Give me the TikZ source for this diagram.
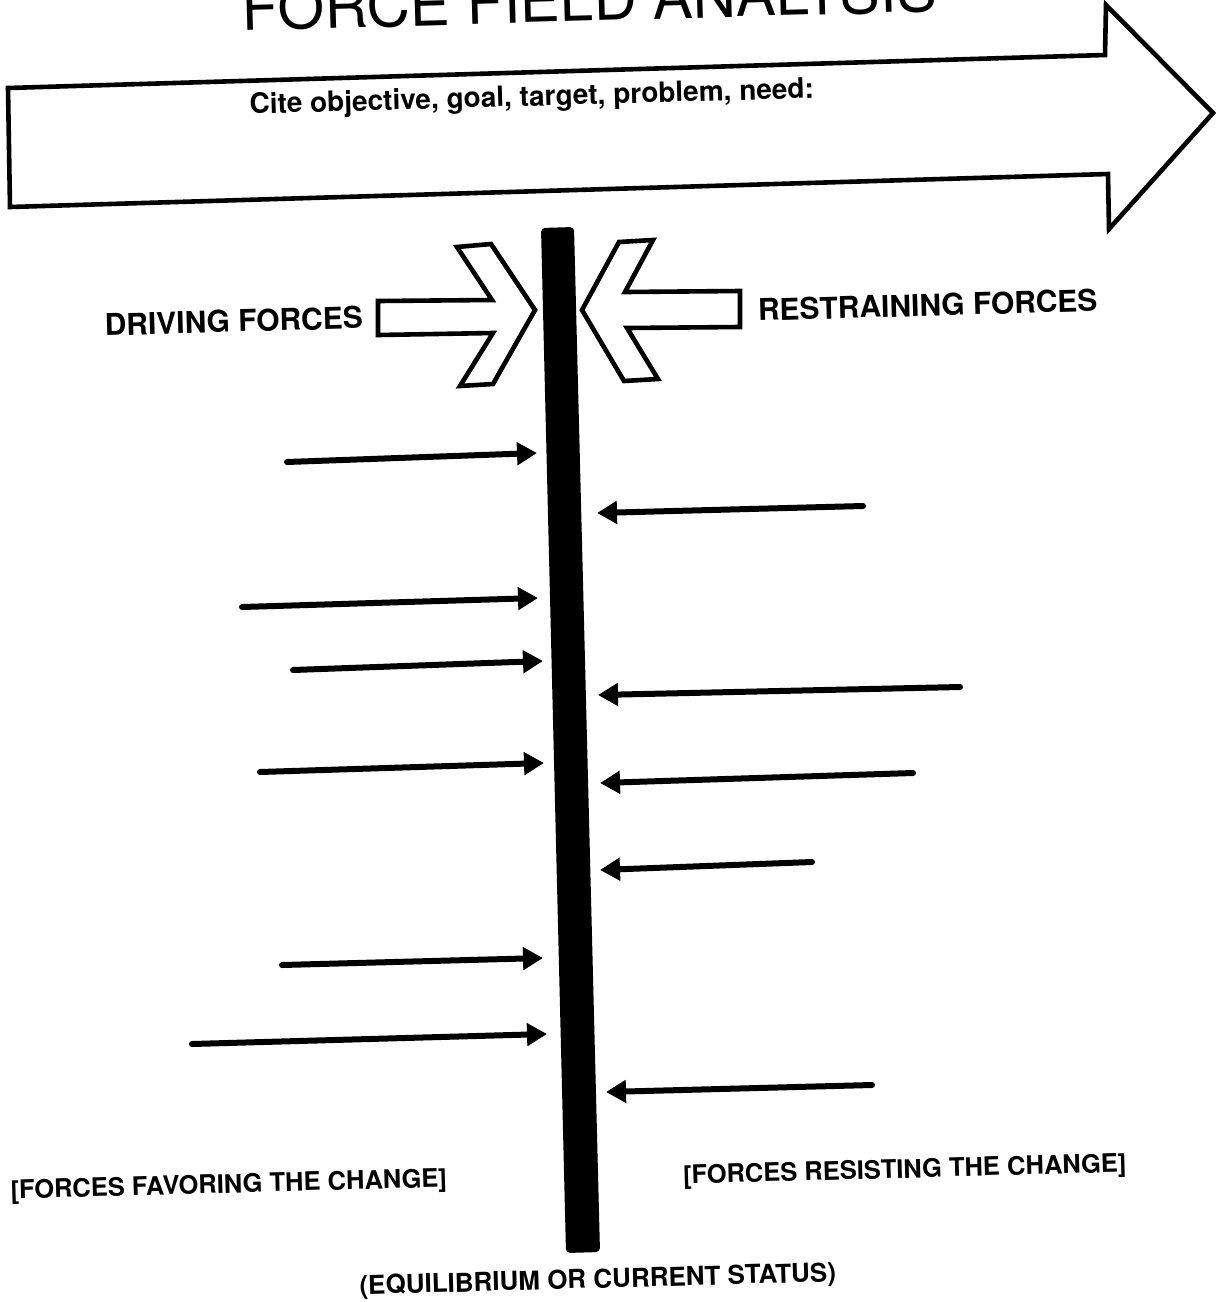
\documentclass[tikz,border=0pt]{standalone}
\usepackage{fontspec}
\setmainfont{TeX Gyre Heros}
\usetikzlibrary{arrows.meta}
\begin{document}
\begin{tikzpicture}[x=0.5pt,y=-0.5pt,
  outline/.style={draw=black, line width=2.3pt, line join=miter, fill=white},
  force/.style={line width=3pt, line cap=round, -{Triangle[length=10pt,width=11pt]}},
  lbl/.style={inner sep=0pt, rotate=1.6, anchor=base},
]
\useasboundingbox (0,0) rectangle (1216,1302);

% big arrow
\draw[outline] (8,88) -- (1105,55) -- (1106,5) -- (1213,113) -- (1109,229) -- (1108,174) -- (10,207) -- cycle;
\node[lbl, font=\fontsize{30}{36}\selectfont] (title) at (590,21) {FORCE FIELD ANALYSIS};
\node[lbl, font=\bfseries\fontsize{14}{17}\selectfont] (cite) at (532,106) {Cite objective, goal, target, problem, need:};

% central bar
\fill[rounded corners=2pt] (541,228) -- (574,227) -- (600,1252) -- (566,1253) -- cycle;

% chevron arrows
\draw[outline] (378,301) -- (492,300) -- (457,247) -- (491,244) -- (535,310) -- (493,384) -- (460,386) -- (493,333) -- (378,335) -- cycle;
\draw[outline] (740,291) -- (625,292) -- (653,240) -- (619,242) -- (582,310) -- (624,381) -- (658,379) -- (627,328) -- (740,327) -- cycle;

\node[lbl, font=\bfseries\fontsize{15}{18}\selectfont] (driving) at (234,332) {DRIVING FORCES};
\node[lbl, font=\bfseries\fontsize{15}{18}\selectfont] (restraining) at (928,316) {RESTRAINING FORCES};

% driving force arrows
\coordinate (d1s) at (287,462); \coordinate (d1e) at (537,453);
\coordinate (d2s) at (242,607); \coordinate (d2e) at (538,598);
\coordinate (d3s) at (293,670); \coordinate (d3e) at (543,661);
\coordinate (d4s) at (260,772); \coordinate (d4e) at (544,763);
\coordinate (d5s) at (282,965); \coordinate (d5e) at (543,958);
\coordinate (d6s) at (192,1044); \coordinate (d6e) at (547,1034);
\foreach \i in {1,...,6} \draw[force] (d\i s) -- (d\i e);

% restraining force arrows
\coordinate (r1s) at (863,506); \coordinate (r1e) at (597,513);
\coordinate (r2s) at (960,687); \coordinate (r2e) at (598,695);
\coordinate (r3s) at (913,773); \coordinate (r3e) at (600,783);
\coordinate (r4s) at (812,862); \coordinate (r4e) at (600,870);
\coordinate (r5s) at (872,1085); \coordinate (r5e) at (606,1092);
\foreach \i in {1,...,5} \draw[force] (r\i s) -- (r\i e);

% bottom labels
\node[lbl, font=\bfseries\fontsize{12.75}{15}\selectfont] (favor) at (229,1193) {[FORCES FAVORING THE CHANGE]};
\node[lbl, font=\bfseries\fontsize{12.75}{15}\selectfont] (resist) at (905,1178) {[FORCES RESISTING THE CHANGE]};
\node[lbl, font=\bfseries\fontsize{13}{16}\selectfont] (equil) at (598,1288) {(EQUILIBRIUM OR CURRENT STATUS)};
\end{tikzpicture}
\end{document}
